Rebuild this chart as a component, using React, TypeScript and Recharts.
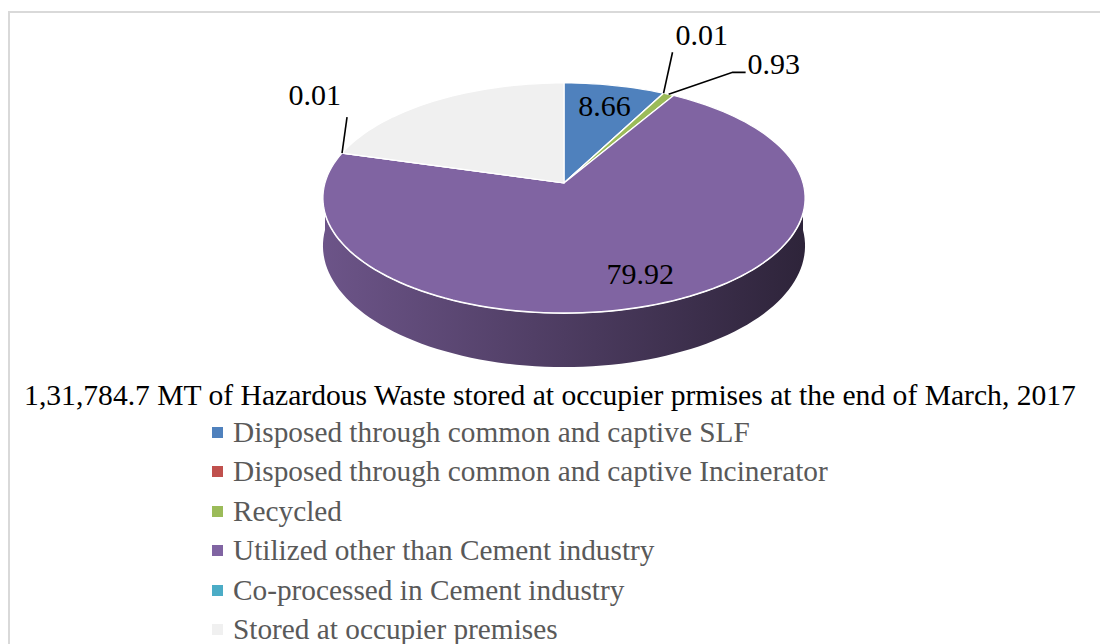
import React from 'react'
import { PieChart, Pie, Cell, Legend } from 'recharts'

const categories = [
  'Disposed through common and captive SLF',
  'Disposed through common and captive Incinerator',
  'Recycled',
  'Utilized other than Cement industry',
  'Co-processed in Cement industry',
  'Stored at occupier premises',
]
// stored share has no printed label
const values = [8.66, 0.01, 0.93, 79.92, 0.01, 23.2]
const valueLabels = ['8.66', '0.01', '0.93', '79.92', '0.01', '']
const colors = ['#4f81bd', '#c0504d', '#9bbb59', '#8064a2', '#4bacc6', '#f0f0f0']
const chartTitle =
  '1,31,784.7 MT of Hazardous Waste stored at occupier prmises at the end of March, 2017'

const data = categories.map((name, i) => ({ name, value: values[i] }))

// leader line / text offsets for the small slices (null = label inside slice)
const labelSpots: any[] = [
  null,
  { line: [[9, -41]], tx: 12, ty: -48, anchor: 'start' },
  { line: [[64, -22], [77, -22]], tx: 79, ty: -20, anchor: 'start' },
  null,
  { line: [[5, -36]], tx: -1, ty: -48, anchor: 'end' },
  null,
]

// fake 3d: perspective squash of the pie plane
const PERSP = 0.13
const TILT = 0.473
const DEPTH = 0.197

function project(cx: number, cy: number, r: number, angle: number, f = 1, h = 0) {
  const rad = (angle * Math.PI) / 180
  const x = Math.cos(rad) * f
  const z = Math.sin(rad) * f
  const w = 1 + PERSP * z
  return [cx + (r * x) / w, cy + (-r * TILT * z + r * DEPTH * h) / w]
}

function arcPoints(cx: number, cy: number, r: number, a0: number, a1: number, h: number) {
  const n = Math.max(2, Math.ceil(Math.abs(a1 - a0) / 2))
  const pts: number[][] = []
  for (let i = 0; i <= n; i++) pts.push(project(cx, cy, r, a0 + ((a1 - a0) * i) / n, 1, h))
  return pts
}

function shade(hex: string, k: number) {
  const n = parseInt(hex.slice(1), 16)
  const c = [(n >> 16) & 255, (n >> 8) & 255, n & 255].map((v) => Math.round(v * k))
  return `rgb(${c.join(',')})`
}

function Slice3D(props: any) {
  const { cx, cy, outerRadius: r, startAngle, endAngle, fill, index } = props
  const top = arcPoints(cx, cy, r, startAngle, endAngle, 0)
  const topPath = `M${cx},${cy}L` + top.map((p) => p.join(',')).join('L') + 'Z'
  const lo = Math.max(Math.min(startAngle, endAngle), -180)
  const hi = Math.min(Math.max(startAngle, endAngle), 0)
  let side = null
  if (hi > lo) {
    const upper = arcPoints(cx, cy, r, lo, hi, 0)
    const lower = arcPoints(cx, cy, r, hi, lo, 1)
    const gid = `side-grad-${index}`
    side = (
      <g>
        <defs>
          <linearGradient id={gid} gradientUnits="userSpaceOnUse" x1={cx - r} x2={cx + r} y1={0} y2={0}>
            <stop offset="0" stopColor={shade(fill, 0.84)} />
            <stop offset="0.5" stopColor={shade(fill, 0.6)} />
            <stop offset="1" stopColor={shade(fill, 0.36)} />
          </linearGradient>
        </defs>
        <path d={'M' + [...upper, ...lower].map((p) => p.join(',')).join('L') + 'Z'} fill={`url(#${gid})`} />
        <path d={'M' + upper.map((p) => p.join(',')).join('L')} fill="none" stroke="#fff" strokeWidth={2} />
      </g>
    )
  }
  return (
    <g>
      {side}
      <path d={topPath} fill={fill} stroke="#fff" strokeWidth={1.2} strokeLinejoin="round" />
    </g>
  )
}

const labelStyle = { fontFamily: '"Liberation Serif", serif', fontSize: 30, fill: '#000' }

function renderLabel(props: any) {
  const { cx, cy, outerRadius, midAngle, index } = props
  const text = valueLabels[index]
  if (!text) return null
  const spot = labelSpots[index]
  if (!spot) {
    const [x, y] = project(cx, cy, outerRadius, midAngle, 0.78)
    return (
      <text x={x} y={y} textAnchor="middle" dominantBaseline="central" style={labelStyle}>
        {text}
      </text>
    )
  }
  const [x0, y0] = project(cx, cy, outerRadius, midAngle, 1)
  const pts = [[x0, y0], ...spot.line.map((d: number[]) => [x0 + d[0], y0 + d[1]])]
  return (
    <g>
      <polyline points={pts.map((p) => p.join(',')).join(' ')} fill="none" stroke="#000" strokeWidth={1.6} />
      <text x={x0 + spot.tx} y={y0 + spot.ty} textAnchor={spot.anchor} style={labelStyle}>
        {text}
      </text>
    </g>
  )
}

function LegendBlock(props: any) {
  // keep the data order, not the alphabetical one
  const payload = [...(props.payload || [])].sort(
    (a: any, b: any) => categories.indexOf(a.value) - categories.indexOf(b.value),
  )
  return (
    <div style={{ fontFamily: '"Liberation Serif", serif' }}>
      <div style={{ width: 1080, textAlign: 'center', fontSize: 29.6, lineHeight: '34.5px', color: '#000', whiteSpace: 'nowrap' }}>
        {chartTitle}
      </div>
      {payload.map((entry: any, i: number) => (
        <div key={i} style={{ display: 'flex', alignItems: 'center', height: 39.5, paddingLeft: 202, whiteSpace: 'nowrap' }}>
          <span style={{ width: 11, height: 11, background: entry.color, marginRight: 10, flex: 'none' }} />
          <span style={{ fontSize: 29.3, color: '#595959', lineHeight: '39.5px' }}>{entry.value}</span>
        </div>
      ))}
    </div>
  )
}

export default function App() {
  return (
    <div style={{ marginTop: 3, width: 1100, borderTop: '2px solid #d9d9d9', borderLeft: '2px solid #d9d9d9' }}>
      <style>{'html,body{overflow:hidden}'}</style>
      <PieChart width={1098} height={640} margin={{ top: 0, right: 0, bottom: 0, left: 0 }}>
        <Pie
          data={data}
          dataKey="value"
          nameKey="name"
          cx={554}
          cy={170}
          outerRadius={239}
          startAngle={90}
          endAngle={-270}
          shape={Slice3D}
          label={renderLabel}
          labelLine={false}
          stroke="#fff"
          isAnimationActive={false}
        >
          {data.map((d, i) => (
            <Cell key={d.name} fill={colors[i]} />
          ))}
        </Pie>
        <Legend
          verticalAlign="bottom"
          content={LegendBlock}
          wrapperStyle={{ left: 0, top: 365, bottom: 'auto', width: 1098 }}
        />
      </PieChart>
    </div>
  )
}
